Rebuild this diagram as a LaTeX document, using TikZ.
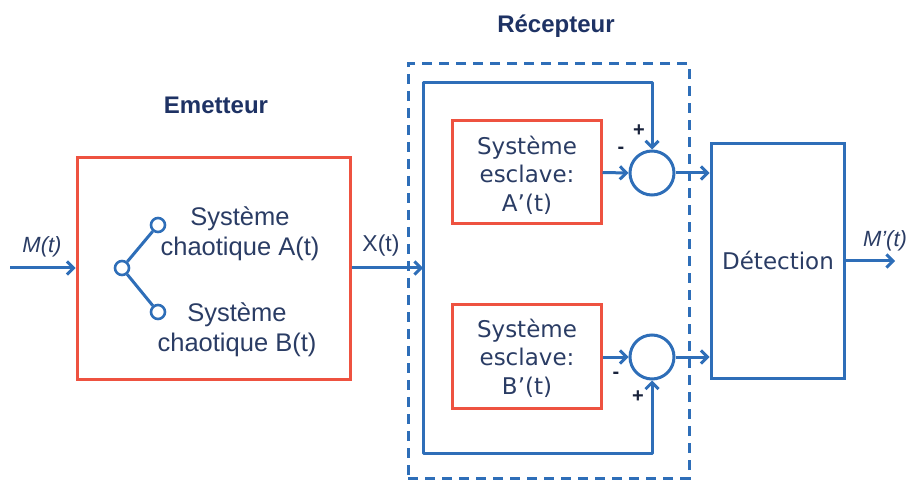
\documentclass[tikz,border=0pt]{standalone}
\usepackage{fontspec}
\setmainfont{Liberation Sans}
\newfontfamily\dejavu{DejaVu Sans}
\usetikzlibrary{arrows.meta,calc}

\definecolor{lineblue}{RGB}{46,110,184}
\definecolor{boxred}{RGB}{238,82,64}
\definecolor{textnavy}{RGB}{42,60,100}
\definecolor{titlenavy}{RGB}{30,50,100}
\definecolor{signdark}{RGB}{25,35,60}

\begin{document}
\begin{tikzpicture}[x=1pt,y=-1pt,
  wire/.style={draw=lineblue,line width=3pt,line join=round},
  arr/.style={wire,-{Straight Barb[length=6.5pt,width=13pt]}},
  redbox/.style={draw=boxred,line width=3pt,rectangle,inner sep=0pt},
  bluebox/.style={draw=lineblue,line width=3pt,rectangle,inner sep=0pt},
  dashbox/.style={draw=lineblue,line width=3pt,rectangle,inner sep=0pt,
                  dash pattern=on 10pt off 7pt},
  sumc/.style={draw=lineblue,line width=3pt,circle,inner sep=0pt,minimum size=44pt},
  contact/.style={draw=lineblue,line width=2.6pt,circle,inner sep=0pt,minimum size=14pt,fill=white},
  lbl/.style={text=textnavy,align=center,inner sep=0pt,
              font=\fontsize{25.5}{30}\selectfont},
  slavetxt/.style={text=textnavy,align=center,inner sep=0pt,
              font=\dejavu\fontsize{23}{28.5}\selectfont},
  title/.style={text=titlenavy,inner sep=0pt,font=\bfseries\fontsize{24}{28}\selectfont},
  siglbl/.style={text=textnavy,inner sep=0pt},
  sign/.style={text=signdark,inner sep=0pt,font=\bfseries\fontsize{20}{20}\selectfont}]

\useasboundingbox (0,0) rectangle (911,481);

% --- transmitter ---
\node[title] (ttlE) at (216,105) {Emetteur};
\node[redbox,minimum width=273pt,minimum height=221pt] (emit) at (213.5,268.5) {};
\node[lbl] (txtA) at (240,234) {Système\\chaotique A(t)};
\node[lbl] (txtB) at (237,330) {Système\\chaotique B(t)};

% switch between the two chaotic systems
\node[contact] (piv) at (122,268) {};
\node[contact] (swA) at (158,225) {};
\node[contact] (swB) at (158,312) {};
\draw[wire] (piv) -- (swA);
\draw[wire] (piv) -- (swB);

% input message
\coordinate (in) at (10,268);
\draw[arr] (in) -- (in -| emit.west);
\node[siglbl,font=\itshape\fontsize{22}{26}\selectfont] (lblM) at (42,247) {M(t)};

% --- receiver ---
\node[title] (ttlR) at (556,26) {Récepteur};
\node[dashbox,minimum width=281pt,minimum height=414pt] (recv) at (548.5,271) {};

\node[redbox,minimum width=149pt,minimum height=103pt] (slvA) at (526.5,172.5) {};
\node[slavetxt] (slvAtxt) at (527,175) {Système\\esclave:\\A’(t)};
\node[redbox,minimum width=149pt,minimum height=103pt] (slvB) at (526.5,356.5) {};
\node[slavetxt] (slvBtxt) at (527,358) {Système\\esclave:\\B’(t)};

\node[sumc] (sumA) at (652,173) {};
\node[sumc] (sumB) at (652,357) {};

% transmitted signal and distribution bus
\coordinate (tap) at (423,268);
\coordinate (busT) at (423,83);
\coordinate (busB) at (423,453);
\draw[arr] (in -| emit.east) -- (tap);
\node[siglbl,font=\fontsize{23}{27}\selectfont] (lblX) at (381,246) {X(t)};
\draw[arr] (tap) -- (busT) -| (sumA.north);
\draw[arr] (tap) -- (busB) -| (sumB.south);

% slave outputs into the comparators
\draw[arr] (slvA.east) -- (sumA.west);
\draw[arr] (slvB.east |- sumB.west) -- (sumB.west);

\node[sign] (pA) at (639,131) {+};
\node[sign] (mA) at (621,150) {-};
\node[sign] (mB) at (616,375) {-};
\node[sign] (pB) at (638,397) {+};

% --- detection ---
\node[bluebox,minimum width=133pt,minimum height=234pt] (det) at (777.5,261) {};
\node[siglbl,font=\dejavu\fontsize{23}{27}\selectfont] (detlbl) at (778,260) {Détection};
\draw[arr] (sumA.east) -- (sumA.east -| det.west);
\draw[arr] (sumB.east) -- (sumB.east -| det.west);

\coordinate (out) at (895,261);
\draw[arr] (det.east |- out) -- (out);
\node[siglbl,font=\itshape\fontsize{22}{26}\selectfont] (lblMp) at (885,241) {M’(t)};

\end{tikzpicture}
\end{document}
